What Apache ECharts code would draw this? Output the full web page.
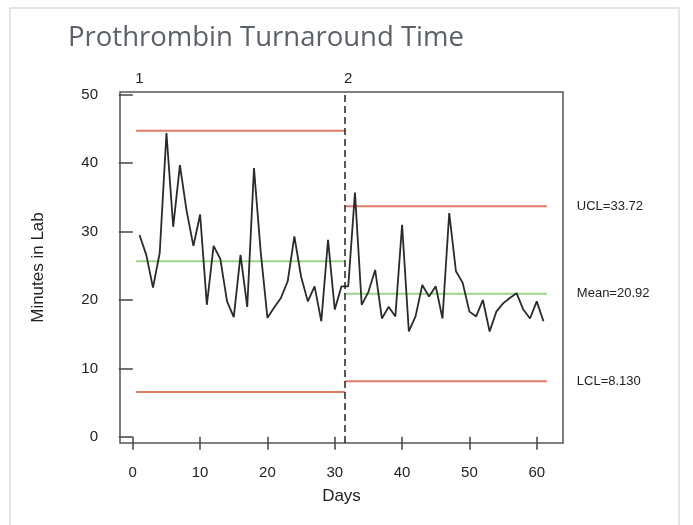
<!DOCTYPE html>
<html>
<head>
<meta charset="utf-8">
<style>
  html, body { margin: 0; padding: 0; background: #fff; }
  #chart { width: 693px; height: 525px; }
</style>
<script src="https://cdn.jsdelivr.net/npm/echarts@6/dist/echarts.min.js"></script>
</head>
<body>
<div id="chart"></div>
<script>
// minutes in lab, per day (days 1..61)
const days = [];
for (let d = 1; d <= 61; d++) days.push(d);
const minutes = [
  29.5, 26.6, 21.8, 26.9, 44.4, 30.7, 39.7, 33.0, 27.9, 32.5,
  19.3, 27.9, 26.0, 19.8, 17.5, 26.6, 19.0, 39.3, 27.0, 17.4,
  18.9, 20.3, 22.7, 29.3, 23.4, 19.8, 22.0, 16.9, 28.8, 18.6,
  22.0,
  22.0, 35.7, 19.3, 21.2, 24.4, 17.3, 19.0, 17.6, 31.0, 15.4,
  17.6, 22.2, 20.5, 22.0, 17.3, 32.7, 24.2, 22.5, 18.3, 17.6,
  20.0, 15.4, 18.3, 19.5, 20.3, 21.0, 18.6, 17.3, 19.8, 16.9
];

// control limits per phase
const phaseNames = ['1', '2'];
const phaseFrom = [0.5, 31.5];
const phaseTo = [31.5, 61.5];
const ucl = [44.75, 33.72];
const mean = [25.66, 20.92];
const lcl = [6.57, 8.13];
const limitLabels = ['UCL=33.72', 'Mean=20.92', 'LCL=8.130'];
const phaseBreak = 31.5;

const xTicks = [0, 10, 20, 30, 40, 50, 60];
const yTicks = [0, 10, 20, 30, 40, 50];

const red = '#e07a66';
const green = '#9ad488';

let chart = echarts.init(document.getElementById('chart'));

function limitSeries(vals, color, label) {
  let out = [];
  for (let i = 0; i < vals.length; i++) {
    let s = {
      type: 'line',
      symbol: 'none',
      silent: true,
      lineStyle: { color: color, width: 2 },
      data: [[phaseFrom[i], vals[i]], [phaseTo[i], vals[i]]],
      z: 1
    };
    if (i == vals.length - 1) {
      s.endLabel = {
        show: true,
        formatter: label,
        distance: 30,
        color: '#222',
        fontFamily: 'Liberation Sans',
        fontSize: 13
      };
    }
    out.push(s);
  }
  return out;
}

let series = [];
series = series.concat(limitSeries(ucl, red, limitLabels[0]));
series = series.concat(limitSeries(mean, green, limitLabels[1]));
series = series.concat(limitSeries(lcl, red, limitLabels[2]));
series.push({
  type: 'line',
  symbol: 'none',
  lineStyle: { color: '#2a2a2a', width: 1.8 },
  data: days.map((d, i) => [d, minutes[i]]),
  markLine: {
    silent: true,
    symbol: 'none',
    label: { show: false },
    lineStyle: { color: '#222', type: [7, 4], width: 1.5 },
    data: [{ xAxis: phaseBreak }]
  },
  z: 3
});

chart.setOption({
  animation: false,
  title: {
    text: 'Prothrombin Turnaround Time',
    left: 63,
    top: 19,
    textStyle: { color: '#5c6169', fontSize: 27.5, fontWeight: 'normal', fontFamily: 'Open Sans' }
  },
  graphic: [{
    type: 'rect',
    shape: { x: 10, y: 8, width: 669, height: 530 },
    style: { fill: 'none', stroke: '#dddddd', lineWidth: 1.5 },
    silent: true
  }],
  grid: {
    left: 120, right: 130, top: 92, bottom: 82,
    show: true, borderColor: '#555', borderWidth: 1.5, backgroundColor: 'transparent'
  },
  xAxis: [{
    type: 'value',
    min: -1.9, max: 63.9,
    name: 'Days',
    nameLocation: 'middle',
    nameGap: 45,
    nameTextStyle: { color: '#222', fontSize: 17, fontFamily: 'Liberation Sans' },
    axisLine: { show: false },
    splitLine: { show: false },
    axisTick: { show: true, length: 13, customValues: xTicks, lineStyle: { color: '#444', width: 1.5 } },
    axisLabel: { customValues: xTicks, margin: 22, color: '#222', fontSize: 15, fontFamily: 'Liberation Sans' }
  }, {
    type: 'value',
    position: 'top',
    min: -1.9, max: 63.9,
    axisLine: { show: false },
    splitLine: { show: false },
    axisTick: { show: false },
    axisLabel: {
      customValues: [1, 32],
      formatter: v => phaseNames[v == 1 ? 0 : 1],
      margin: 6, color: '#222', fontSize: 15, fontFamily: 'Liberation Sans'
    }
  }],
  yAxis: {
    type: 'value',
    min: -0.9, max: 50.4,
    name: 'Minutes in Lab',
    nameLocation: 'middle',
    nameGap: 73,
    nameTextStyle: { color: '#222', fontSize: 17, fontFamily: 'Liberation Sans' },
    axisLine: { show: false },
    splitLine: { show: false },
    axisTick: { show: true, length: 14, customValues: yTicks, lineStyle: { color: '#444', width: 1.5 } },
    axisLabel: { customValues: yTicks, margin: 22, color: '#222', fontSize: 15, fontFamily: 'Liberation Sans' }
  },
  series: series
});

window.addEventListener('resize', () => {
  chart.resize()
})
</script>
</body>
</html>
